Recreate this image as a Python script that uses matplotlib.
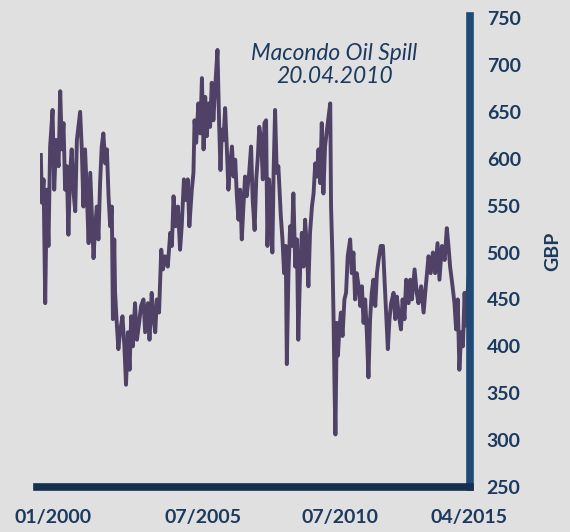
import numpy as np
import matplotlib.pyplot as plt

# price in GBP (dates as fractional years)
years = [1999.55, 1999.59, 1999.65, 1999.71, 1999.77, 1999.83, 1999.89, 1999.98, 2000.04, 2000.11,
         2000.20, 2000.26, 2000.32, 2000.38, 2000.44, 2000.50, 2000.56, 2000.62, 2000.68, 2000.75,
         2000.81, 2000.87, 2000.99, 2001.05, 2001.11, 2001.17, 2001.23, 2001.30, 2001.36, 2001.42,
         2001.48, 2001.54, 2001.60, 2001.66, 2001.72, 2001.78, 2001.84, 2001.91, 2001.97, 2002.03,
         2002.09, 2002.15, 2002.19, 2002.24, 2002.27, 2002.33, 2002.39, 2002.45, 2002.54, 2002.61,
         2002.67, 2002.74, 2002.80, 2002.86, 2002.92, 2003.00, 2003.07, 2003.15, 2003.22, 2003.31,
         2003.37, 2003.47, 2003.53, 2003.61, 2003.68, 2003.74, 2003.80, 2003.88, 2003.96, 2004.02,
         2004.10, 2004.20, 2004.29, 2004.35, 2004.41, 2004.49, 2004.57, 2004.65, 2004.71, 2004.79,
         2004.86, 2004.93, 2004.99, 2005.08, 2005.14, 2005.18, 2005.24, 2005.32, 2005.39, 2005.45,
         2005.51, 2005.57, 2005.63, 2005.69, 2005.75, 2005.81, 2005.87, 2005.93, 2006.02, 2006.08,
         2006.13, 2006.18, 2006.24, 2006.30, 2006.36, 2006.42, 2006.48, 2006.55, 2006.61, 2006.67,
         2006.73, 2006.79, 2006.85, 2006.91, 2006.97, 2007.03, 2007.09, 2007.18, 2007.25, 2007.31,
         2007.38, 2007.44, 2007.50, 2007.55, 2007.62, 2007.68, 2007.74, 2007.80, 2007.85, 2007.91,
         2007.97, 2008.03, 2008.08, 2008.13, 2008.19, 2008.25, 2008.34, 2008.40, 2008.46, 2008.52,
         2008.56, 2008.62, 2008.68, 2008.74, 2008.80, 2008.87, 2008.93, 2008.98, 2009.05, 2009.11,
         2009.17, 2009.23, 2009.29, 2009.35, 2009.41, 2009.48, 2009.54, 2009.60, 2009.66, 2009.72,
         2009.78, 2009.84, 2009.90, 2009.96, 2010.03, 2010.09, 2010.15, 2010.18, 2010.23, 2010.27,
         2010.31, 2010.34, 2010.39, 2010.43, 2010.48, 2010.54, 2010.60, 2010.67, 2010.73, 2010.79,
         2010.88, 2010.94, 2011.00, 2011.06, 2011.12, 2011.19, 2011.25, 2011.31, 2011.37, 2011.43,
         2011.49, 2011.55, 2011.61, 2011.67, 2011.73, 2011.80, 2011.86, 2011.92, 2012.00, 2012.08,
         2012.14, 2012.19, 2012.26, 2012.32, 2012.38, 2012.47, 2012.53, 2012.59, 2012.65, 2012.74,
         2012.80, 2012.87, 2012.93, 2013.02, 2013.08, 2013.14, 2013.24, 2013.32, 2013.38, 2013.48,
         2013.57, 2013.65, 2013.75, 2013.83, 2013.91, 2013.99, 2014.08, 2014.15, 2014.24, 2014.34,
         2014.42, 2014.48, 2014.54, 2014.63, 2014.70, 2014.76, 2014.82, 2014.88, 2014.95, 2015.01,
         2015.07, 2015.13, 2015.19, 2015.25]
price = [604, 553, 578, 446, 567, 507, 613, 652, 567, 620,
         592, 672, 610, 638, 567, 592, 519, 585, 610, 563,
         544, 620, 650, 610, 549, 610, 567, 510, 585, 539,
         494, 528, 549, 514, 574, 613, 627, 595, 610, 560,
         528, 549, 429, 514, 457, 425, 397, 415, 432, 400,
         359, 415, 375, 432, 400, 446, 407, 425, 443, 450,
         415, 446, 407, 457, 429, 415, 450, 436, 503, 482,
         496, 485, 521, 507, 560, 528, 549, 503, 528, 578,
         556, 578, 528, 567, 585, 641, 617, 659, 627, 686,
         610, 666, 624, 659, 634, 681, 641, 673, 716, 638,
         588, 631, 620, 654, 613, 567, 592, 613, 581, 599,
         560, 535, 567, 514, 549, 581, 560, 585, 613, 556,
         524, 578, 603, 634, 620, 578, 638, 641, 507, 578,
         549, 500, 592, 652, 585, 592, 539, 514, 478, 507,
         381, 478, 528, 507, 563, 485, 514, 407, 485, 521,
         485, 535, 507, 464, 521, 549, 563, 595, 581, 610,
         574, 638, 563, 613, 631, 645, 659, 549, 496, 432,
         351, 306, 425, 390, 415, 436, 411, 450, 457, 496,
         514, 478, 500, 450, 478, 464, 443, 464, 425, 450,
         415, 367, 429, 457, 471, 443, 478, 492, 507, 507,
         471, 443, 397, 429, 446, 457, 429, 453, 436, 418,
         450, 429, 471, 446, 471, 450, 482, 457, 446, 464,
         436, 464, 496, 478, 500, 478, 510, 471, 507, 492,
         526, 507, 485, 464, 446, 418, 450, 375, 415, 400,
         457, 422, 461, 485]

tick_pos = [2000.0, 2005.5, 2010.5, 2015.25]
tick_labels = ["01/2000", "07/2005", "07/2010", "04/2015"]
yticks = [250, 300, 350, 400, 450, 500, 550, 600, 650, 700, 750]

bg = "#e0e0e0"
navy = "#1b3a5e"

plt.rcParams['font.family'] = ['Lato', 'DejaVu Sans']

fig = plt.figure(figsize=(5.7, 5.32), dpi=100, facecolor=bg)
ax = fig.add_axes([0.0702, 0.0846, 0.7544, 0.885], facecolor=bg)

ax.plot(years, price, color="#4f4266", lw=2.8)

ax.set_xlim(1999.52, 2015.27)
ax.set_ylim(250, 752)

for s in ["top", "left"]:
    ax.spines[s].set_visible(False)
ax.spines["right"].set_color("#1f4a75")
ax.spines["right"].set_linewidth(5.5)
ax.spines["bottom"].set_color("#17304f")
ax.spines["bottom"].set_linewidth(5.5)
ax.spines["bottom"].set_bounds(1999.40, 2015.27)

ax.yaxis.tick_right()
ax.yaxis.set_label_position("right")
ax.set_yticks(yticks)
ax.set_xticks(tick_pos)
ax.set_xticklabels(tick_labels)
ax.tick_params(axis="y", length=0, pad=12, labelsize=14, labelcolor=navy)
ax.tick_params(axis="x", length=0, pad=16, labelsize=14, labelcolor=navy)
for lab in ax.get_xticklabels() + ax.get_yticklabels():
    lab.set_fontweight("bold")
ax.set_ylabel("GBP", fontsize=14, fontweight="bold", color=navy, labelpad=17)

ax.text(2010.3, 700, "Macondo Oil Spill\n20.04.2010", ha="center", va="center",
        fontsize=16.4, style="italic", color=navy, linespacing=1.1)

fig.savefig("out.png", dpi=100, facecolor=bg)
